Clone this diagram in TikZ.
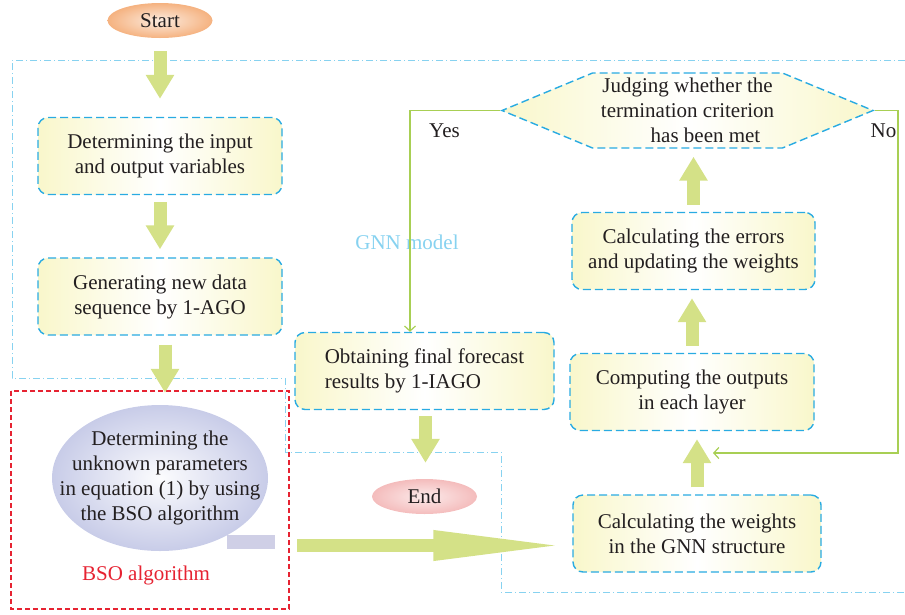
\documentclass[tikz,border=0pt]{standalone}
\usepackage{fontspec}
\setmainfont{Liberation Serif}
\usetikzlibrary{arrows.meta,shapes.geometric,shapes.symbols}

\definecolor{boxline}{RGB}{41,171,226}
\definecolor{boxyellow}{RGB}{249,247,203}
\definecolor{flowgreen}{RGB}{212,225,135}
\definecolor{linegreen}{RGB}{168,207,84}
\definecolor{gnnblue}{RGB}{135,210,240}
\definecolor{bsored}{RGB}{230,35,50}
\definecolor{bsolav}{RGB}{200,204,232}
\definecolor{tailgray}{RGB}{207,207,230}
\definecolor{startorange}{RGB}{245,178,128}
\definecolor{endpink}{RGB}{244,188,188}
\definecolor{textgray}{RGB}{35,31,32}

\newcommand{\flowfont}{\fontsize{21pt}{25pt}\selectfont}

\begin{document}
\begin{tikzpicture}[x=1pt,y=-1pt,>=latex,
  stepbox/.style={draw=boxline,dash pattern=on 8pt off 4pt,line width=1.4pt,
    rounded corners=10pt,left color=boxyellow,right color=boxyellow,middle color=white,
    minimum width=244pt,minimum height=77pt,align=center,text=textgray,font=\flowfont},
  judgebox/.style={stepbox,rounded corners=0pt,signal,signal to=west and east,
    signal pointer angle=45,minimum width=371pt,minimum height=75pt,inner sep=0pt},
  steptext/.style={align=center,text=textgray,font=\flowfont},
  terminal/.style={ellipse,minimum width=105pt,minimum height=35pt,inner sep=0pt,
    text=textgray,font=\flowfont},
  bsoblob/.style={ellipse,minimum width=216pt,minimum height=146pt,inner sep=0pt,
    inner color=white!94!bsolav,outer color=bsolav},
  flowarrow/.style={draw=flowgreen,line width=13pt,-{Triangle[length=24pt,width=27pt]},
    shorten <=7pt,shorten >=8pt},
  widearrow/.style={draw=flowgreen,line width=13pt,-{Triangle[length=136pt,width=27pt]}},
  loopline/.style={draw=linegreen,line width=1.2pt,-{Straight Barb[length=5pt,width=11pt]}},
  looplabel/.style={text=textgray,font=\flowfont},
  gnnregion/.style={draw=gnnblue,line width=1pt,dash pattern=on 7pt off 3pt on 1pt off 3pt},
  bsoregion/.style={color=bsored,draw=bsored,line width=1.3pt,dash pattern=on 5pt off 3pt}]

\useasboundingbox (0,0) rectangle (905,614);

% Regions
\draw[gnnregion] (905,60) -- (12,60) -- (12,378) -- (285,378) -- (285,452)
  -- (501,452) -- (501,592) -- (905,592);
\node[text=gnnblue,font=\flowfont] (gnnlabel) at (407,242) {GNN model};
\draw[bsoregion] (11,391) rectangle (289,609);
\node[text=bsored,font=\flowfont] (bsolabel) at (146,575) {BSO algorithm};

% Terminals
\node[terminal,inner color=startorange!25!white,outer color=startorange] (start) at (160,20.5) {Start};
\node[terminal,inner color=endpink!30!white,outer color=endpink] (stop) at (424.5,496.5) {End};

% Steps
\node[stepbox] (input) at (160,156) {Determining the input\\and output variables};
\node[stepbox] (ago) at (160,296.5) {Generating new data\\sequence by 1-AGO};
\node[stepbox,minimum width=259pt,align=left] (iago) at (424.5,371) {Obtaining final forecast\\results by 1-IAGO};
\node[stepbox,minimum width=243pt] (errors) at (693.5,251) {Calculating the errors\\and updating the weights};
\node[stepbox] (outputs) at (692,392) {Computing the outputs\\in each layer};
\node[stepbox,minimum width=248pt] (weights) at (697,533.5) {Calculating the weights\\in the GNN structure};
\node[judgebox] (judge) at (687.5,110.5) {Judging whether the\\termination criterion\\\hspace*{36pt}has been met};

% BSO ellipse
\fill[tailgray] (227,535) rectangle (275,549);
\node[bsoblob] (bso) at (160,478) {};
\node[steptext] (bsotext) at (bso) {Determining the\\unknown parameters\\in equation (1) by using\\the BSO algorithm};

% Flow arrows
\draw[flowarrow,shorten <=13pt,shorten >=18pt] (start.south) -- (input.north);
\draw[flowarrow] (input.south) -- (ago.north);
\draw[flowarrow,shorten <=9pt,shorten >=12pt] ([xshift=5pt]ago.south) -- ([xshift=5pt]bso.north);
\draw[flowarrow,shorten <=6pt,shorten >=16pt] ([xshift=1pt]iago.south) -- ([xshift=1pt]stop.north);
\foreach \a/\b in {weights/outputs,outputs/errors,errors/judge} {
  \draw[flowarrow] (\a.north) -- (\a.north |- \b.south);
}
\coordinate (bsoout) at (297,545.5);
\draw[widearrow,shorten >=3pt] (bsoout) -- (weights.west |- bsoout);

% Yes / No loops
\coordinate (yesturn) at (410,110.5);
\coordinate (noturn) at (898,110.5);
\coordinate (noend) at (713,453);
\draw[loopline] (judge.west) -- (yesturn) -- (yesturn |- iago.north);
\draw[loopline] (judge.east) -- (noturn) |- (noend);
\node[looplabel] (yes) at (444.5,131) {Yes};
\node[looplabel] (no) at (883.5,131) {No};

\end{tikzpicture}
\end{document}
